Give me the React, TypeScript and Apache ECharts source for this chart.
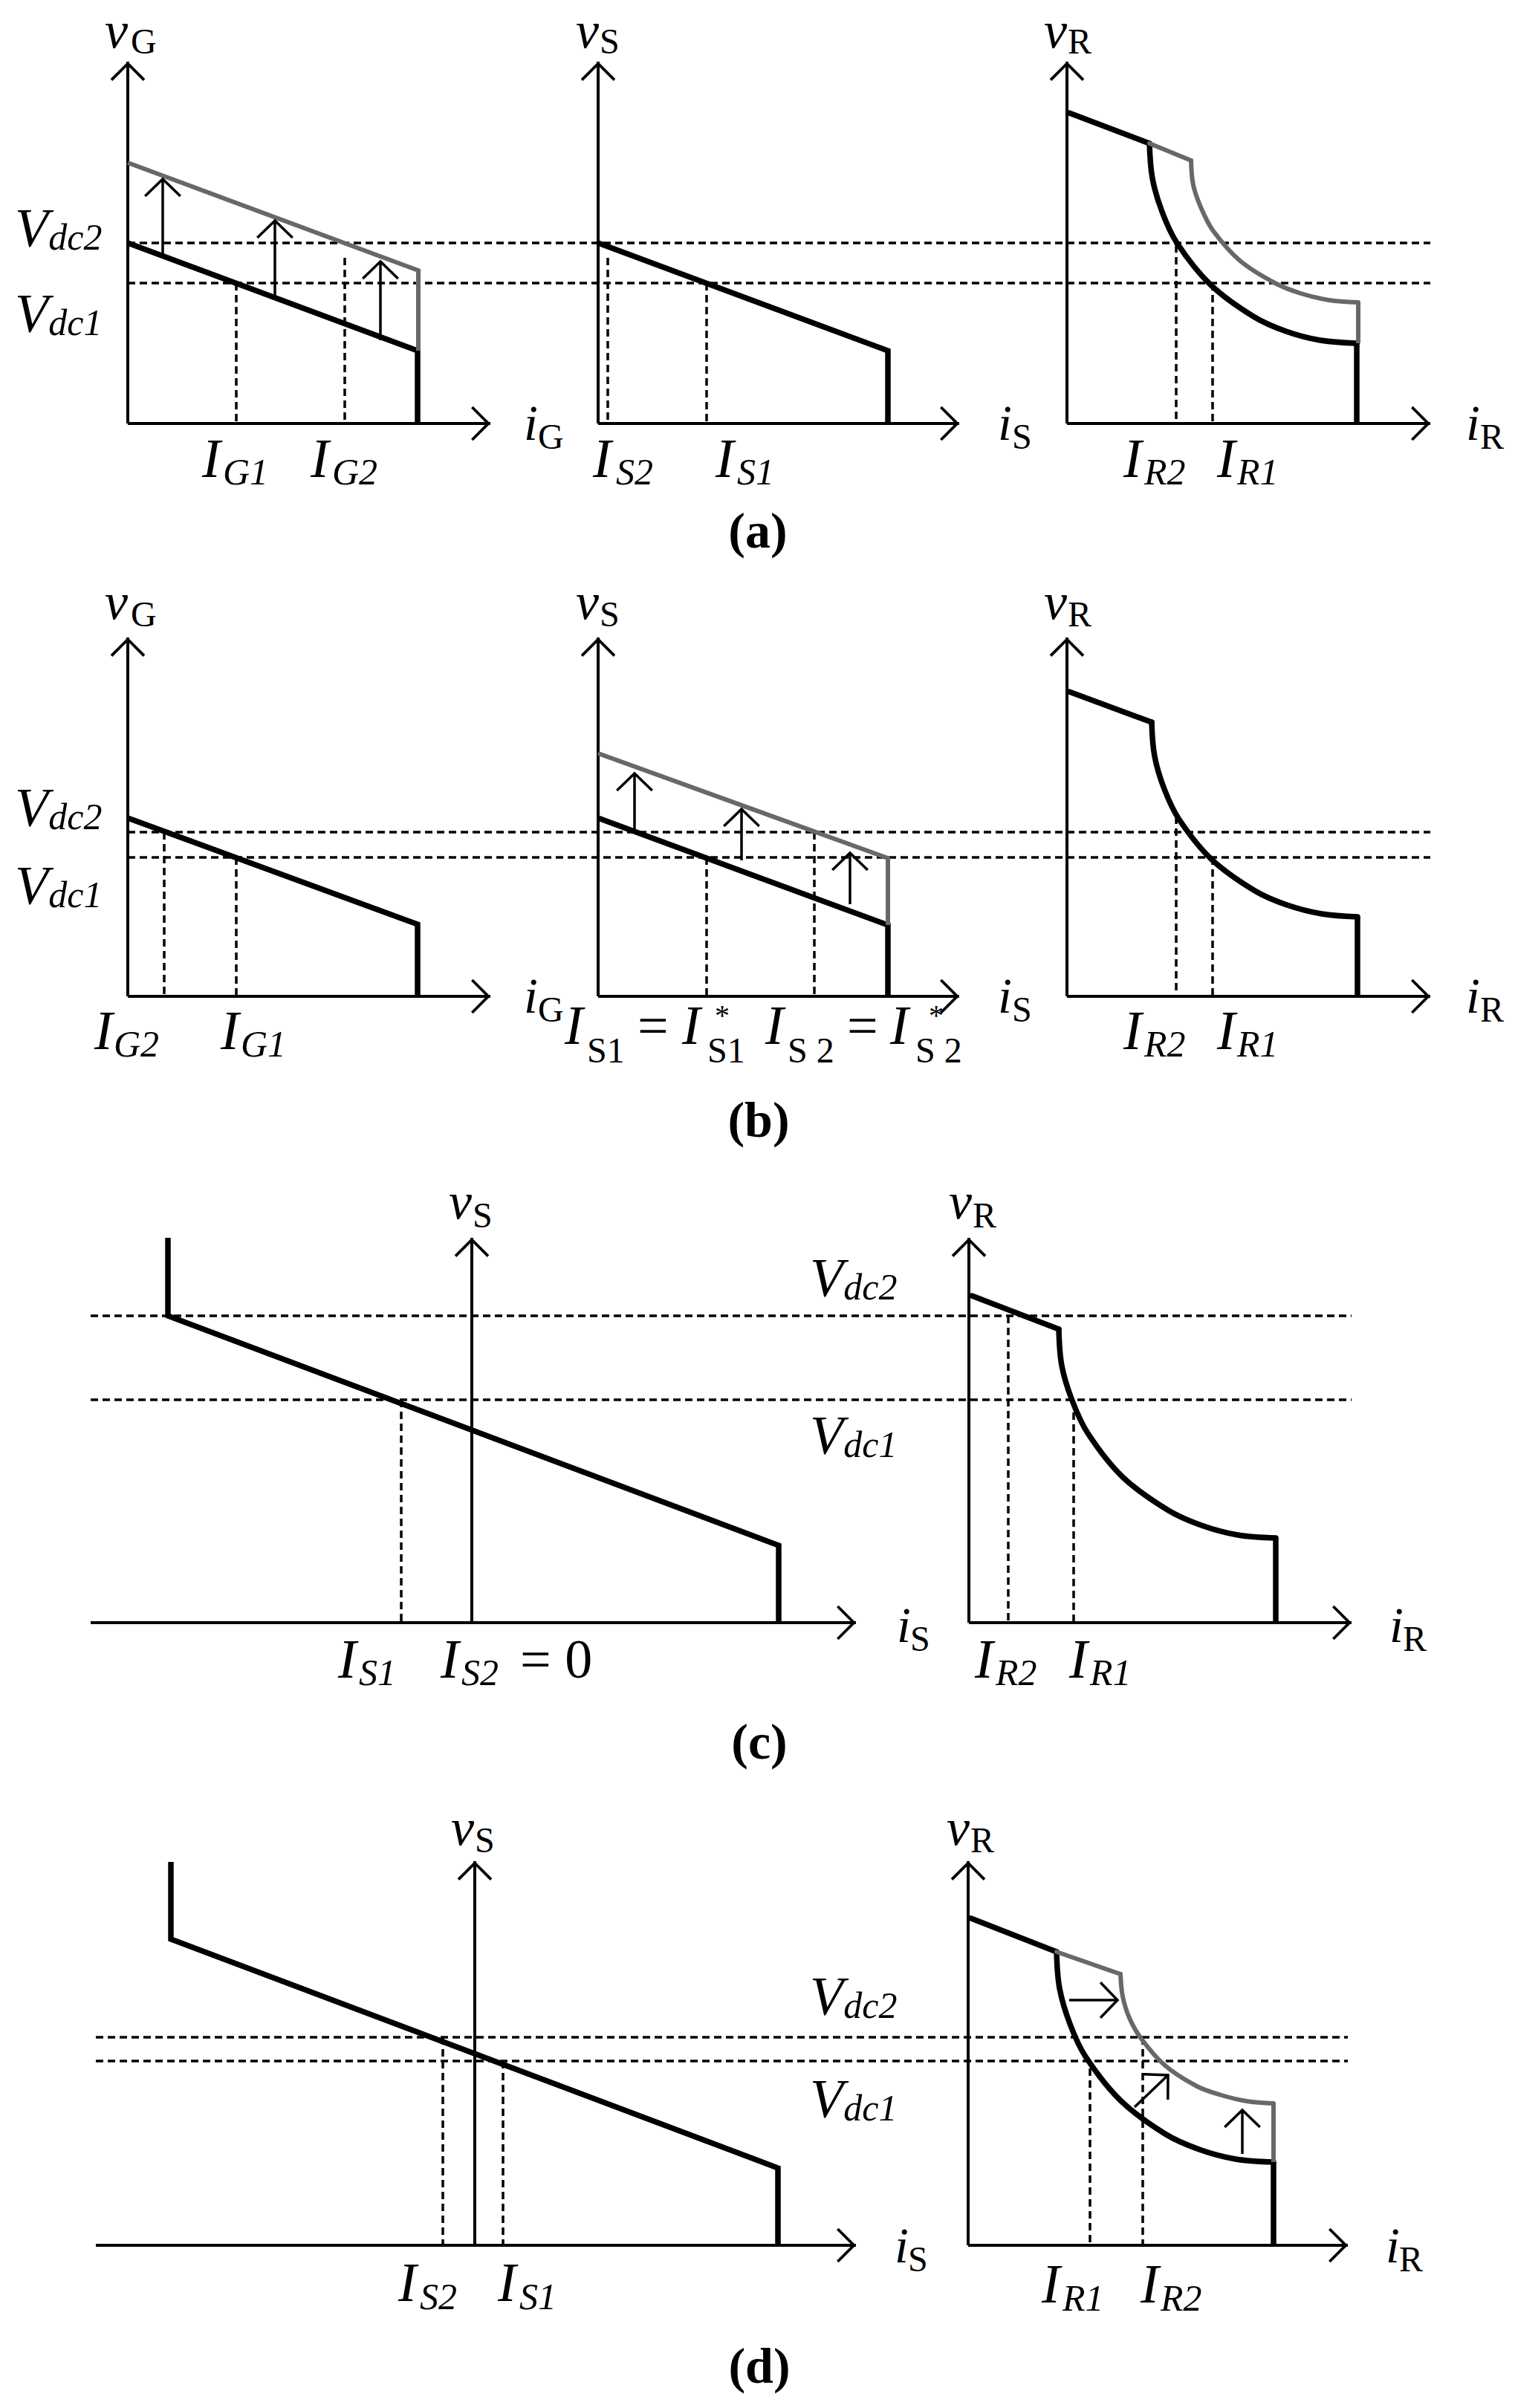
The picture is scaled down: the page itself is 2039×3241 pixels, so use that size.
import React, { useEffect, useRef } from "react";
import * as echarts from "echarts";

// ===== Values (diagram units: origin at the axes crossing, y upward) =====
// (a)
const A_VDC2 = 243;
const A_VDC1 = 189;
const A1_LOWER = [[0, 243], [390, 98], [390, 0]];
const A1_UPPER = [[0, 351], [391, 206], [391, 98]];
const A1_MARKS = [[146, 189], [292, 223]]; // I_G1, I_G2 : [x, top of dotted drop]
const A1_SHIFTS = [[47, 226, 47, 329], [198, 171, 198, 273], [340, 112, 340, 218]];
const A2_LOWER = [[0, 243], [390, 98], [390, 0]];
const A2_MARKS = [[13, 223], [146, 189]];
const A3_LOWER_DROOP = [[3, 418], [111, 377]];
const A3_LOWER_CURVE = [[111, 377], [115, 330], [128, 285], [148, 243], [193, 187], [251, 144], [295, 124], [341, 112], [390, 108]];
const A3_LOWER_END = [[390, 108], [390, 0]];
const A3_UPPER_DROOP = [[111, 377], [167, 354]];
const A3_UPPER_CURVE = [[167, 354], [170, 321], [181, 289], [197, 259], [233, 219], [280, 189], [315, 175], [353, 166], [392, 163]];
const A3_UPPER_END = [[392, 163], [392, 108]];
const A3_MARKS = [[147, 240], [196, 189]];

// (b)
const B_VDC2 = 221;
const B_VDC1 = 187;
const B1_LOWER = [[0, 240], [390, 97], [390, 0]];
const B1_MARKS = [[49, 221], [146, 187]];
const B2_LOWER = [[0, 240], [390, 96], [390, 0]];
const B2_UPPER = [[0, 327], [390, 186], [390, 96]];
const B2_MARKS = [[146, 187], [291, 221]];
const B2_SHIFTS = [[49, 224, 49, 300], [193, 183, 193, 252], [339, 124, 339, 193]];
const B3_LOWER_DROOP = [[3, 410], [114, 369]];
const B3_LOWER_CURVE = [[114, 369], [118, 323], [131, 279], [151, 238], [195, 184], [253, 142], [296, 123], [343, 111], [391, 107]];
const B3_LOWER_END = [[391, 107], [391, 0]];
const B3_MARKS = [[147, 242], [196, 187]];

// (c)
const C_VDC2 = 413;
const C_VDC1 = 300;
const C1_LOWER = [[-409, 518], [-409, 413], [413, 104], [413, 0]];
const C1_MARKS = [[-95, 300]];
const C2_LOWER_DROOP = [[4, 440], [121, 395]];
const C2_LOWER_CURVE = [[121, 395], [125, 346], [139, 299], [160, 255], [207, 196], [267, 152], [313, 131], [362, 118], [413, 114]];
const C2_LOWER_END = [[413, 114], [413, 0]];
const C2_MARKS = [[53, 413], [141, 283]];

// (d)
const D_VDC2 = 280;
const D_VDC1 = 248;
const D1_LOWER = [[-409, 516], [-409, 412], [408, 104], [408, 0]];
const D1_MARKS = [[-43, 280], [38, 248]];
const D2_LOWER_DROOP = [[4, 440], [119, 395]];
const D2_LOWER_CURVE = [[119, 395], [123, 346], [137, 298], [158, 254], [205, 195], [265, 150], [311, 129], [360, 116], [411, 112]];
const D2_LOWER_END = [[411, 112], [411, 0]];
const D2_UPPER_DROOP = [[119, 395], [205, 365]];
const D2_UPPER_CURVE = [[205, 365], [208, 335], [217, 306], [233, 278], [265, 242], [308, 214], [341, 202], [375, 194], [411, 191]];
const D2_UPPER_END = [[411, 191], [411, 112]];
const D2_MARKS = [[164, 238], [235, 280]];
const D2_SHIFTS = [[136, 330, 201, 330], [224, 186, 269, 229], [369, 123, 369, 182]];

// ===== Text (content) =====
// [text, x, baseline, kind]
const LABELS_A = [
  ["v", 141, 64, "V"], ["G", 176, 72, "AS"],
  ["v", 775, 64, "V"], ["S", 807, 72, "AS"],
  ["v", 1405, 64, "V"], ["R", 1437, 72, "AS"],
  ["i", 705, 592, "IA"], ["G", 724, 604, "AS"],
  ["i", 1343, 592, "IA"], ["S", 1362, 604, "AS"],
  ["i", 1973, 592, "IA"], ["R", 1992, 604, "AS"],
  ["Vdc2", 20, 332, "VDC"],
  ["Vdc1", 20, 447, "VDC"],
  ["I", 272, 642, "M"], ["G1", 300, 652, "S"],
  ["I", 418, 642, "M"], ["G2", 447, 652, "S"],
  ["I", 798, 642, "M"], ["S2", 829, 652, "S"],
  ["I", 963, 642, "M"], ["S1", 992, 652, "S"],
  ["I", 1512, 642, "M"], ["R2", 1540, 652, "S"],
  ["I", 1638, 642, "M"], ["R1", 1665, 652, "S"],
  ["(a)", 1020, 737, "P"],
];
const LABELS_B = [
  ["v", 141, 833, "V"], ["G", 176, 843, "AS"],
  ["v", 775, 833, "V"], ["S", 807, 843, "AS"],
  ["v", 1405, 833, "V"], ["R", 1437, 843, "AS"],
  ["i", 705, 1363, "IA"], ["G", 724, 1375, "AS"],
  ["i", 1343, 1363, "IA"], ["S", 1362, 1375, "AS"],
  ["i", 1973, 1363, "IA"], ["R", 1992, 1375, "AS"],
  ["Vdc2", 20, 1112, "VDC"],
  ["Vdc1", 20, 1217, "VDC"],
  ["I", 127, 1412, "M"], ["G2", 153, 1422, "S"],
  ["I", 297, 1412, "M"], ["G1", 324, 1422, "S"],
  ["I", 1512, 1412, "M"], ["R2", 1540, 1422, "S"],
  ["I", 1638, 1412, "M"], ["R1", 1665, 1422, "S"],
  ["I", 760, 1405, "M"], ["S1", 790, 1430, "US"], ["=", 858, 1405, "U"],
  ["I", 918, 1405, "M"], ["*", 962, 1380, "ST"], ["S1", 952, 1430, "US"],
  ["I", 1030, 1405, "M"], ["S 2", 1060, 1430, "US"], ["=", 1140, 1405, "U"],
  ["I", 1198, 1405, "M"], ["*", 1250, 1380, "ST"], ["S 2", 1232, 1430, "US"],
  ["(b)", 1021, 1530, "P"],
];
const LABELS_C = [
  ["v", 604, 1640, "V"], ["S", 636, 1652, "AS"],
  ["v", 1277, 1640, "V"], ["R", 1309, 1652, "AS"],
  ["i", 1207, 2210, "IA"], ["S", 1225, 2222, "AS"],
  ["i", 1870, 2210, "IA"], ["R", 1888, 2222, "AS"],
  ["Vdc2", 1090, 1745, "VDC"],
  ["Vdc1", 1090, 1957, "VDC"],
  ["I", 455, 2258, "M"], ["S1", 483, 2268, "S"],
  ["I", 593, 2258, "M"], ["S2", 621, 2268, "S"], ["= 0", 700, 2258, "U"],
  ["I", 1312, 2258, "M"], ["R2", 1340, 2268, "S"],
  ["I", 1439, 2258, "M"], ["R1", 1467, 2268, "S"],
  ["(c)", 1022, 2367, "P"],
];
const LABELS_D = [
  ["v", 607, 2483, "V"], ["S", 639, 2493, "AS"],
  ["v", 1274, 2483, "V"], ["R", 1306, 2493, "AS"],
  ["i", 1204, 3045, "IA"], ["S", 1222, 3057, "AS"],
  ["i", 1865, 3045, "IA"], ["R", 1883, 3057, "AS"],
  ["Vdc2", 1090, 2712, "VDC"],
  ["Vdc1", 1090, 2850, "VDC"],
  ["I", 536, 3097, "M"], ["S2", 565, 3108, "S"],
  ["I", 670, 3097, "M"], ["S1", 699, 3108, "S"],
  ["I", 1402, 3099, "M"], ["R1", 1430, 3110, "S"],
  ["I", 1535, 3099, "M"], ["R2", 1562, 3110, "S"],
  ["(d)", 1022, 3207, "P"],
];

// ===== Layout & styles =====
const W = 2039;
const H = 3241;
// [left, top, width, height, xMin]
const PANEL_BOX: Record<string, number[]> = {
  a1: [172, 83, 488, 487, 0],
  a2: [805, 83, 486, 487, 0],
  a3: [1436, 83, 489, 487, 0],
  b1: [172, 858, 488, 483, 0],
  b2: [805, 858, 486, 483, 0],
  b3: [1436, 858, 489, 483, 0],
  c1: [122, 1666, 1030, 518, -513],
  c2: [1304, 1666, 515, 518, 0],
  d1: [129, 2505, 1023, 517, -510],
  d2: [1303, 2505, 511, 517, 0],
};
const ROW_BOX: Record<string, number[]> = {
  a: [172, 83, 1753, 487],
  b: [172, 858, 1753, 483],
  c: [122, 1666, 1697, 518],
  d: [129, 2505, 1685, 517],
};
const BLACK = "#000000";
const GRAY = "#686868";
const THICK = 7.5;
const GRAY_W = 6;
const AXIS_W = 4;
const THIN = 3.5;
const DASH = [10, 6];
const ARROW = "path://M0,23.5L23.5,0L47,23.5L44.3,26.2L23.5,5.4L2.7,26.2Z";
const HEAD_LEN = 33;
const HEAD_ANG = (46 * Math.PI) / 180;
const FAMILY = "Liberation Serif, Times New Roman, serif";
const CENTRAL = 0.3375;
const KINDS: Record<string, any> = {
  M: { size: 74, italic: true },
  S: { size: 50, italic: true },
  V: { size: 70, italic: true },
  IA: { size: 68, italic: true },
  AS: { size: 48, italic: false },
  U: { size: 74, italic: false },
  US: { size: 48, italic: false },
  ST: { size: 40, italic: false },
  P: { size: 68, italic: false, bold: true, center: true },
  VDC: { size: 74, italic: true, rich: true },
};

function buildOption() {
  const grid: any[] = [];
  const xAxis: any[] = [];
  const yAxis: any[] = [];
  const series: any[] = [];

  function addGrid(box: number[], xMin: number, visible: boolean) {
    const gi = grid.length;
    const [left, top, width, height] = box;
    grid.push({ left, top, width, height, containLabel: false });
    const axisLine = visible
      ? {
          show: true,
          onZero: true,
          symbol: ["none", ARROW],
          symbolSize: [47, 26],
          symbolOffset: [0, -13],
          lineStyle: { color: BLACK, width: AXIS_W, cap: "butt" },
        }
      : { show: false };
    const common = {
      gridIndex: gi,
      type: "value",
      show: visible,
      axisLine,
      axisTick: { show: false },
      axisLabel: { show: false },
      splitLine: { show: false },
      z: 1,
    };
    xAxis.push({ ...common, min: xMin, max: xMin + width });
    yAxis.push({ ...common, min: 0, max: height });
    return gi;
  }

  function poly(gi: number, data: number[][], color: string, width: number, opts: any = {}) {
    series.push({
      type: "line",
      xAxisIndex: gi,
      yAxisIndex: gi,
      data,
      symbol: "none",
      showSymbol: false,
      silent: true,
      clip: false,
      smooth: opts.smooth || false,
      lineStyle: {
        color,
        width,
        type: opts.dash || "solid",
        cap: opts.cap || "butt",
        join: "miter",
      },
      z: opts.z ?? 3,
    });
  }
  function marks(gi: number, list: number[][]) {
    list.forEach(([x, top]) => poly(gi, [[x, top], [x, 0]], BLACK, THIN, { dash: DASH, z: 2 }));
  }
  function shifts(gi: number, list: number[][]) {
    list.forEach(([x0, y0, x1, y1]) => {
      poly(gi, [[x0, y0], [x1, y1]], BLACK, THIN, { z: 4 });
      const back = Math.atan2(y1 - y0, x1 - x0) + Math.PI;
      poly(
        gi,
        [
          [x1 + HEAD_LEN * Math.cos(back + HEAD_ANG), y1 + HEAD_LEN * Math.sin(back + HEAD_ANG)],
          [x1, y1],
          [x1 + HEAD_LEN * Math.cos(back - HEAD_ANG), y1 + HEAD_LEN * Math.sin(back - HEAD_ANG)],
        ],
        BLACK,
        THIN,
        { z: 4 }
      );
    });
  }
  function refLines(rowKey: string, levels: number[]) {
    const box = ROW_BOX[rowKey];
    const gi = addGrid(box, 0, false);
    levels.forEach((v) => poly(gi, [[0, v], [box[2], v]], BLACK, THIN, { dash: DASH, z: 2 }));
  }
  function curveSet(gi: number, droop: number[][], curve: number[][], end: number[][], color: string, width: number) {
    poly(gi, droop, color, width, { cap: "round" });
    poly(gi, curve, color, width, { smooth: 0.35, cap: "round" });
    poly(gi, end, color, width);
  }

  // reference lines (underneath)
  refLines("a", [A_VDC2, A_VDC1]);
  refLines("b", [B_VDC2, B_VDC1]);
  refLines("c", [C_VDC2, C_VDC1]);
  refLines("d", [D_VDC2, D_VDC1]);

  const g: Record<string, number> = {};
  Object.keys(PANEL_BOX).forEach((k) => {
    g[k] = addGrid(PANEL_BOX[k], PANEL_BOX[k][4], true);
  });

  // (a)
  marks(g.a1, A1_MARKS);
  poly(g.a1, A1_LOWER, BLACK, THICK);
  poly(g.a1, A1_UPPER, GRAY, GRAY_W);
  shifts(g.a1, A1_SHIFTS);
  marks(g.a2, A2_MARKS);
  poly(g.a2, A2_LOWER, BLACK, THICK);
  marks(g.a3, A3_MARKS);
  curveSet(g.a3, A3_LOWER_DROOP, A3_LOWER_CURVE, A3_LOWER_END, BLACK, THICK);
  curveSet(g.a3, A3_UPPER_DROOP, A3_UPPER_CURVE, A3_UPPER_END, GRAY, GRAY_W);

  // (b)
  marks(g.b1, B1_MARKS);
  poly(g.b1, B1_LOWER, BLACK, THICK);
  marks(g.b2, B2_MARKS);
  poly(g.b2, B2_LOWER, BLACK, THICK);
  poly(g.b2, B2_UPPER, GRAY, GRAY_W);
  shifts(g.b2, B2_SHIFTS);
  marks(g.b3, B3_MARKS);
  curveSet(g.b3, B3_LOWER_DROOP, B3_LOWER_CURVE, B3_LOWER_END, BLACK, THICK);

  // (c)
  marks(g.c1, C1_MARKS);
  poly(g.c1, C1_LOWER, BLACK, THICK);
  marks(g.c2, C2_MARKS);
  curveSet(g.c2, C2_LOWER_DROOP, C2_LOWER_CURVE, C2_LOWER_END, BLACK, THICK);

  // (d)
  marks(g.d1, D1_MARKS);
  poly(g.d1, D1_LOWER, BLACK, THICK);
  marks(g.d2, D2_MARKS);
  curveSet(g.d2, D2_LOWER_DROOP, D2_LOWER_CURVE, D2_LOWER_END, BLACK, THICK);
  curveSet(g.d2, D2_UPPER_DROOP, D2_UPPER_CURVE, D2_UPPER_END, GRAY, GRAY_W);
  shifts(g.d2, D2_SHIFTS);

  const labels = [...LABELS_A, ...LABELS_B, ...LABELS_C, ...LABELS_D] as any[];
  const elements = labels.map(([text, x, base, kind]) => {
    const k = KINDS[kind];
    const align = k.center ? "center" : "left";
    const style: any = {
      text,
      fill: BLACK,
      fontSize: k.size,
      fontFamily: FAMILY,
      fontStyle: k.italic ? "italic" : "normal",
      fontWeight: k.bold ? "bold" : "normal",
      align,
      textAlign: align,
      verticalAlign: "middle",
      textVerticalAlign: "middle",
    };
    if (k.rich) {
      style.text = `{m|${text.slice(0, 1)}}{s|${text.slice(1)}}`;
      style.rich = {
        m: { fontSize: 74, fontStyle: "italic", fontFamily: FAMILY, fill: BLACK, color: BLACK, lineHeight: 74 },
        s: {
          fontSize: 50,
          fontStyle: "italic",
          fontFamily: FAMILY,
          fill: BLACK,
          color: BLACK,
          lineHeight: 38,
          verticalAlign: "bottom",
        },
      };
    }
    return {
      type: "text",
      x,
      y: base - CENTRAL * k.size,
      silent: true,
      z: 100,
      style,
    };
  });

  return {
    animation: false,
    backgroundColor: "#ffffff",
    grid,
    xAxis,
    yAxis,
    series,
    graphic: { elements },
  };
}

export default function App() {
  const ref = useRef<HTMLDivElement>(null);
  useEffect(() => {
    if (!ref.current) return;
    const chart = echarts.init(ref.current, null, { renderer: "svg", width: W, height: H });
    chart.setOption(buildOption() as any);
    return () => chart.dispose();
  }, []);
  return (
    <div
      ref={ref}
      style={{ position: "absolute", left: 0, top: 0, width: W, height: H, background: "#fff" }}
    />
  );
}
